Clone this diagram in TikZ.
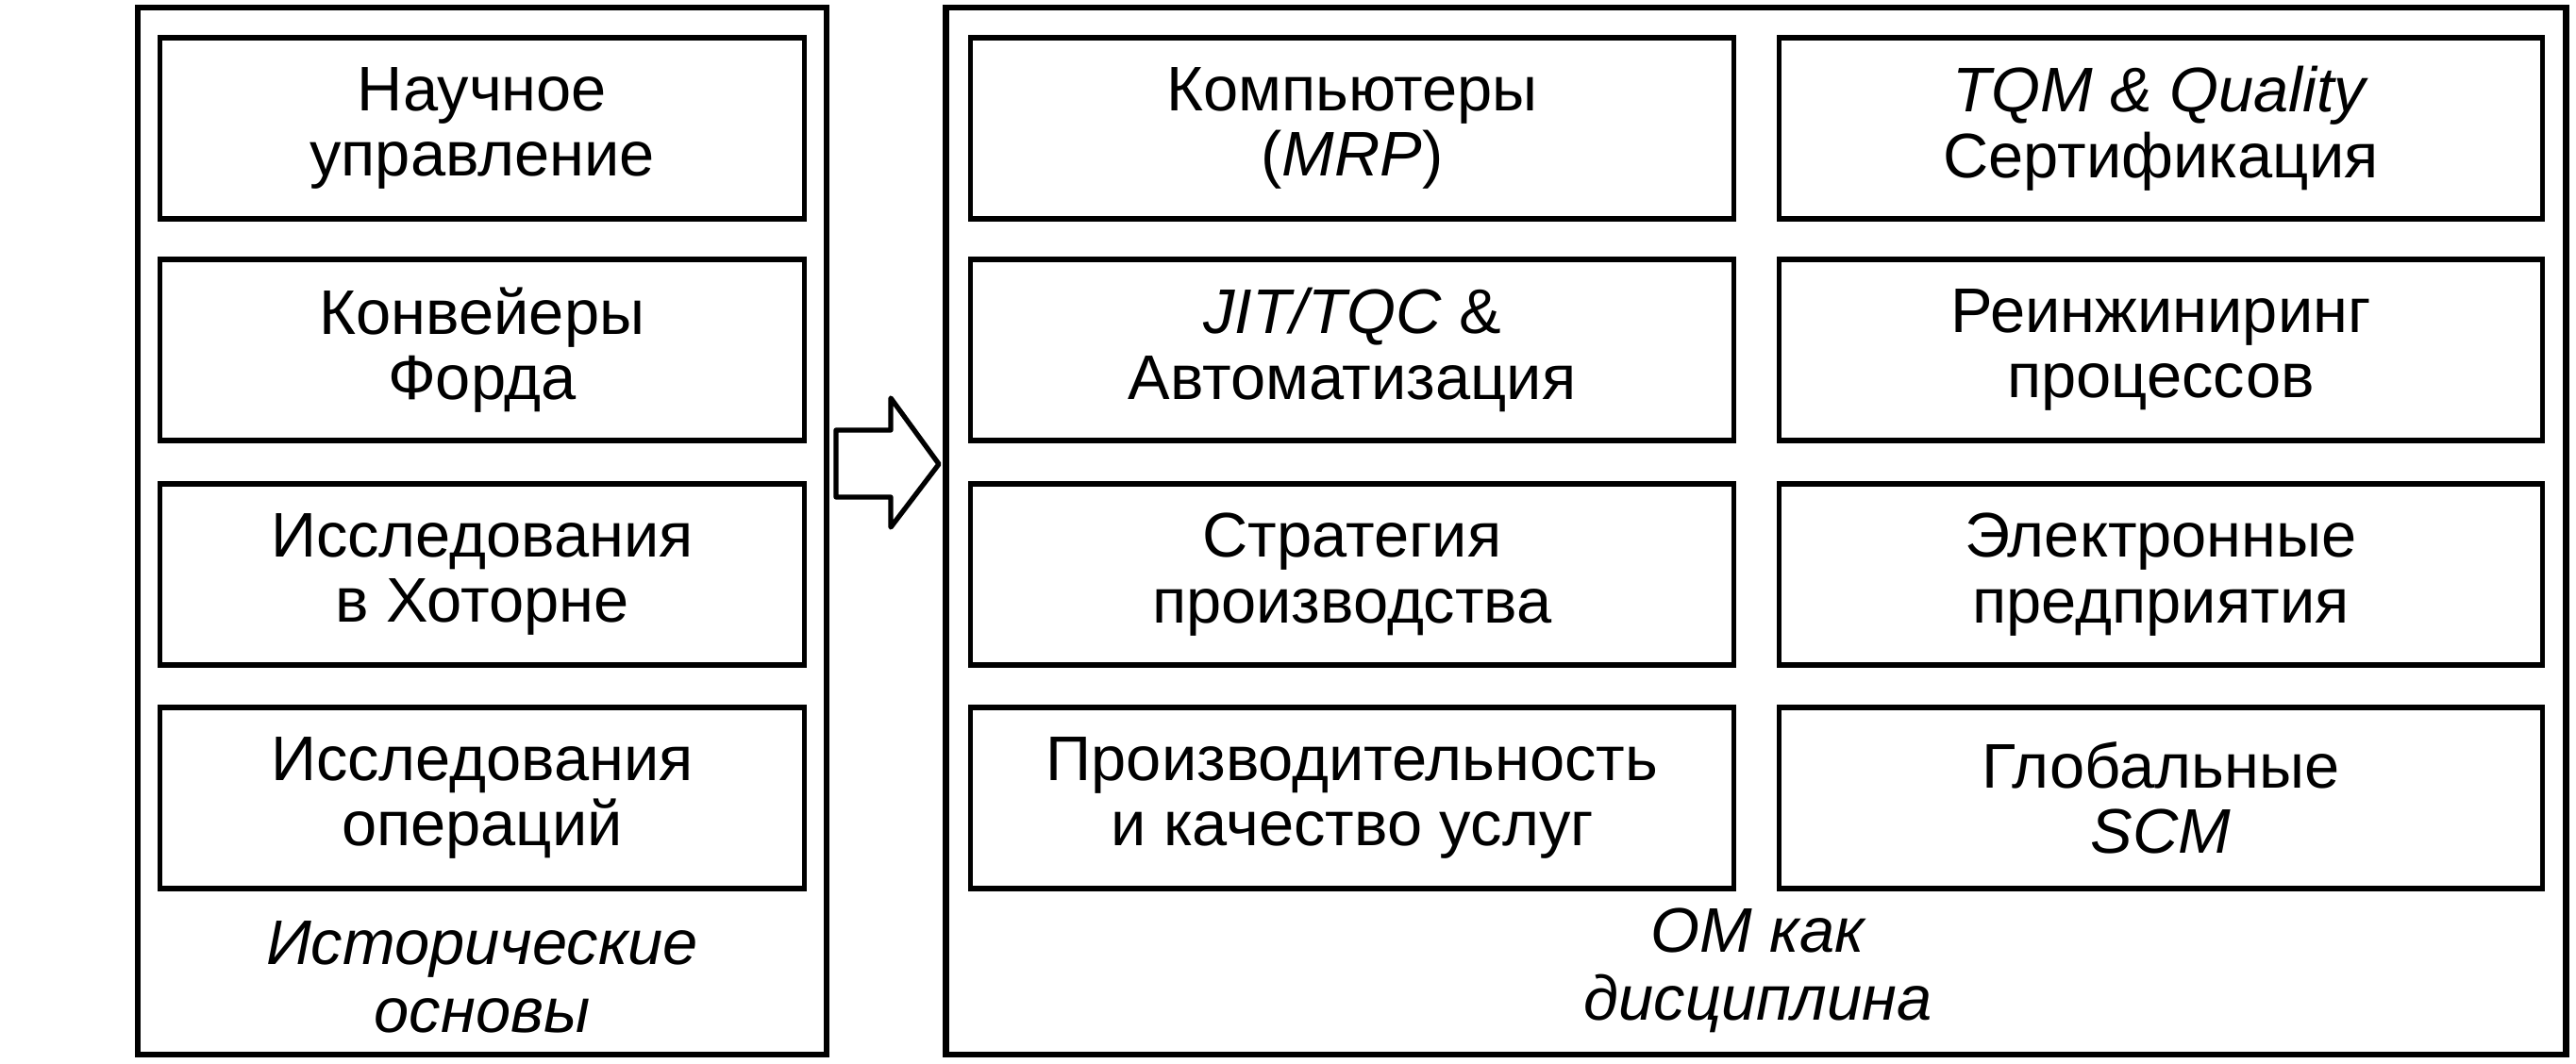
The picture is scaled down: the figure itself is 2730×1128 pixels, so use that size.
\documentclass[tikz,border=0pt]{standalone}
\usepackage{fontspec}
\setmainfont{Liberation Sans}
\begin{document}
\begin{tikzpicture}[x=0.01cm, y=-0.01cm,
  frame/.style={draw, line width=1.8pt, minimum height=11.1cm},
  box/.style={draw, line width=1.5pt, minimum height=1.92cm, align=center, inner sep=0pt, font=\fontsize{19}{19.8}\selectfont},
  leftbox/.style={box, minimum width=6.83cm},
  rightbox/.style={box, minimum width=8.09cm},
  label/.style={align=center, inner sep=0pt, font=\fontsize{19}{20.5}\selectfont\itshape}]
\useasboundingbox (0,0) rectangle (2730,1128);
\node[frame, minimum width=7.3cm] (F_0) at (511,563) {};
\node[frame, minimum width=17.16cm] (F_1) at (1861,563) {};
\node[leftbox] (P_0_0) at (511,136) {Научное\\управление};
\node[leftbox] (P_0_1) at (511,371) {Конвейеры\\Форда};
\node[leftbox] (P_0_2) at (511,609) {Исследования\\в Хоторне};
\node[leftbox] (P_0_3) at (511,846) {Исследования\\операций};
\node[label] (L_0) at (511,1036) {Исторические\\основы};
\node[rightbox] (P_1_0) at (1433,136) {Компьютеры\\(\textit{MRP})};
\node[rightbox] (P_1_1) at (1433,371) {\textit{JIT/TQC} \&\\Автоматизация};
\node[rightbox] (P_1_2) at (1433,609) {Стратегия\\производства};
\node[rightbox] (P_1_3) at (1433,846) {Производительность\\и качество услуг};
\node[rightbox] (P_2_0) at (2290,136) {\textit{TQM \& Quality}\\Сертификация};
\node[rightbox] (P_2_1) at (2290,371) {Реинжиниринг\\процессов};
\node[rightbox] (P_2_2) at (2290,609) {Электронные\\предприятия};
\node[rightbox] (P_2_3) at (2290,846) {Глобальные\\\textit{SCM}};
\node[label] (L_1) at (1863,1029) {ОМ как\\дисциплина};
\draw[line width=1.5pt, line join=round] (886,456) -- (944,456) -- (944,422) -- (995,492) -- (944,559) -- (944,527) -- (886,527) -- cycle;
\end{tikzpicture}
\end{document}
